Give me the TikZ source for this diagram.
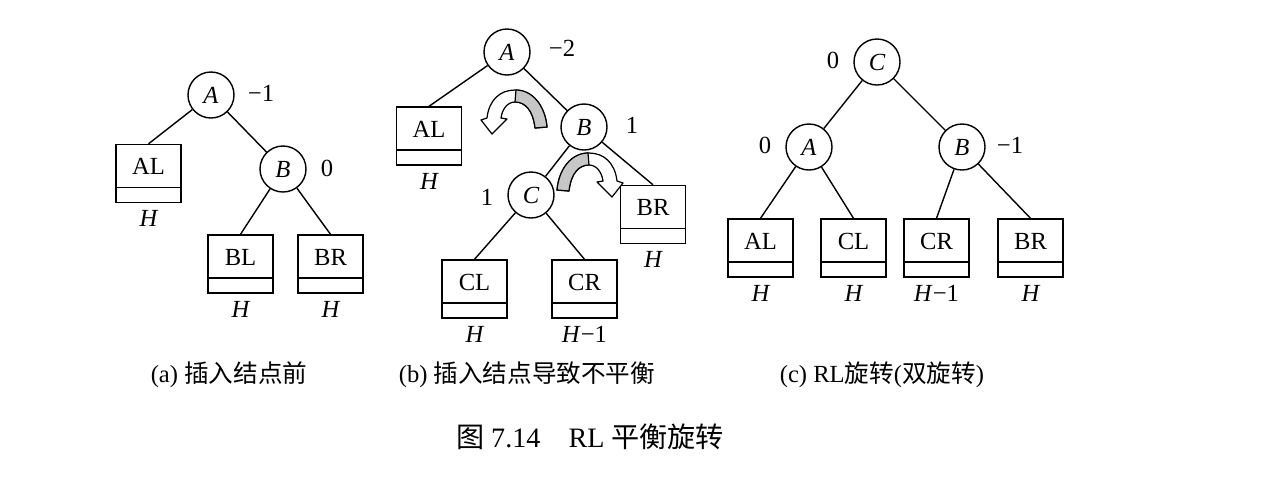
\documentclass[tikz,border=0pt]{standalone}
\usepackage{fontspec}
\setmainfont{Liberation Serif}
\newfontfamily\cjk{Noto Sans CJK SC}
\usetikzlibrary{positioning}

\tikzset{
  vertex/.style={draw, circle, line width=0.8pt, minimum size=0.92cm, inner sep=0pt,
    font=\fontsize{14}{16}\selectfont\itshape},
  subtree/.style={draw, rectangle, line width=0.8pt, minimum width=1.3cm, minimum height=1.16cm,
    inner sep=0pt, text height=0.36cm, text depth=0.31cm, font=\fontsize{14}{16}\selectfont,
    path picture={\draw[line width=0.8pt] ([yshift=0.3cm]path picture bounding box.south west)
      -- ([yshift=0.3cm]path picture bounding box.south east);}},
  hlabel/.style={inner sep=0pt, font=\fontsize{14}{16}\selectfont\itshape},
  bf/.style={inner sep=0pt, font=\fontsize{14}{16}\selectfont},
  subcap/.style={inner sep=0pt, font=\fontsize{14}{16}\selectfont},
  branch/.style={line width=0.8pt},
  rotarrow/.pic={
    \filldraw[fill=white, line width=0.7pt, line join=round]
      (20,38) .. controls (18,20) and (10,12) .. (0,12)
      .. controls (-8,12) and (-13,20) .. (-14,28) -- (-8,29) -- (-23,44) -- (-34,30) -- (-28,28)
      .. controls (-26,10) and (-15,0) .. (0,0)
      .. controls (17,0) and (30,15) .. (32,37) -- cycle;
    \filldraw[fill=black!22, line width=0.7pt, line join=round]
      (20,38) .. controls (18,20) and (10,12) .. (0,12) -- (1,0)
      .. controls (17,0) and (30,15) .. (32,37) -- cycle;
  }
}

\begin{document}
\begin{tikzpicture}[x=0.2mm, y=-0.2mm]
  \useasboundingbox (0,0) rectangle (1270,482);

  % (a) before insertion
  \node[vertex] (aA) at (211,95) {A};
  \node[vertex] (aB) at (283,169) {B};
  \node[subtree] (aAL) at (148.5,173.5) {AL};
  \node[subtree] (aBL) at (240.5,264) {BL};
  \node[subtree] (aBR) at (330.5,264) {BR};
  \node[bf] (aAf) at (261,93) {−1};
  \node[bf] (aBf) at (327,168) {0};
  \draw[branch] (aA) -- (aAL.north);
  \draw[branch] (aA) -- (aB);
  \draw[branch] (aB) -- (aBL.north);
  \draw[branch] (aB) -- (aBR.north);

  % (b) insertion makes A unbalanced
  \node[vertex] (bA) at (507,52) {A};
  \node[vertex] (bB) at (584,127) {B};
  \node[vertex] (bC) at (531,195) {C};
  \node[subtree] (bAL) at (429,136) {AL};
  \node[subtree] (bBR) at (653,214.5) {BR};
  \node[subtree] (bCL) at (474.5,289) {CL};
  \node[subtree] (bCR) at (584.5,289) {CR};
  \node[bf] (bAf) at (562,48) {−2};
  \node[bf] (bBf) at (632,125) {1};
  \node[bf] (bCf) at (487,197) {1};
  \draw[branch] (bA) -- (bAL.north);
  \draw[branch] (bA) -- (bB);
  \draw[branch] (bB) -- (bC);
  \draw[branch] (bB) -- (bBR.north);
  \draw[branch] (bC) -- (bCL.north);
  \draw[branch] (bC) -- (bCR.north);
  \pic at (515,90) {rotarrow};
  \pic[xscale=-1] at (589,153) {rotarrow};

  % (c) after RL rotation
  \node[vertex] (cC) at (877,62) {C};
  \node[vertex] (cA) at (809,147) {A};
  \node[vertex] (cB) at (962,147) {B};
  \node[subtree] (cAL) at (760.5,248) {AL};
  \node[subtree] (cCL) at (853.5,248) {CL};
  \node[subtree] (cCR) at (936.5,248) {CR};
  \node[subtree] (cBR) at (1030.5,248) {BR};
  \node[bf] (cCf) at (833,60) {0};
  \node[bf] (cAf) at (765,145) {0};
  \node[bf] (cBf) at (1010,145) {−1};
  \draw[branch] (cC) -- (cA);
  \draw[branch] (cC) -- (cB);
  \draw[branch] (cA) -- (cAL.north);
  \draw[branch] (cA) -- (cCL.north);
  \draw[branch] (cB) -- (cCR.north);
  \draw[branch] (cB) -- (cBR.north);

  % subtree heights
  \foreach \t/\h in {aAL/H, aBL/H, aBR/H, bAL/H, bBR/H, bCL/H, bCR/H\textup{−1},
                     cAL/H, cCL/H, cCR/H\textup{−1}, cBR/H}
    \node[hlabel, below=0.14cm of \t] (h\t) {\h};

  % captions
  \node[subcap] (capa) at (229,375) {(a) {\cjk 插入结点前}};
  \node[subcap] (capb) at (527,375) {(b) {\cjk 插入结点导致不平衡}};
  \node[subcap] (capc) at (882,375) {(c) RL{\cjk 旋转}({\cjk 双旋转})};
  \node[inner sep=0pt, font=\fontsize{16}{18}\selectfont] (title) at (590,437)
    {{\cjk 图} 7.14\quad RL {\cjk 平衡旋转}};
\end{tikzpicture}
\end{document}
